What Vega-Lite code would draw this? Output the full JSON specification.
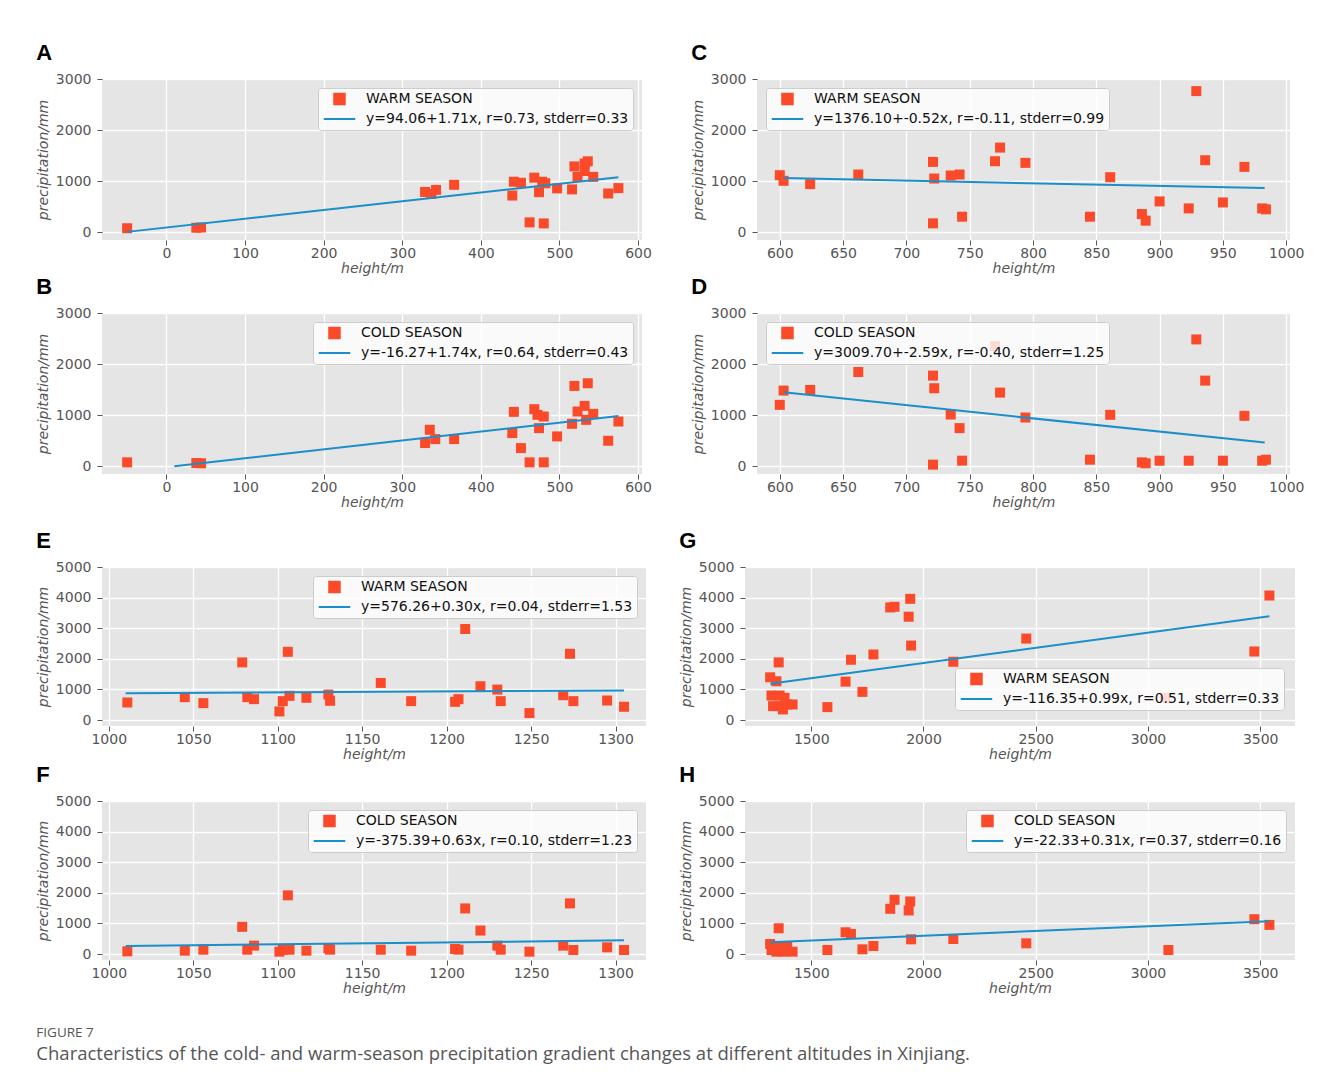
{
"$schema": "https://vega.github.io/schema/vega-lite/v6.json",
"padding": {"left": 36, "top": 42, "right": 5, "bottom": 5},
"background": "white",
"config": {
 "font": "DejaVu Sans",
 "view": {"fill": "#e5e5e5", "stroke": null},
 "axis": {"labelFont": "DejaVu Sans", "labelFontSize": 14, "labelColor": "#555555", "titleFont": "DejaVu Sans", "titleFontSize": 14, "titleFontStyle": "italic", "titleFontWeight": "normal", "titleColor": "#555555", "domain": false, "tickColor": "#555555", "tickSize": 5, "gridColor": "#ffffff", "gridWidth": 1.3, "gridOpacity": 1, "labelFlush": false, "labelOverlap": false, "format": "d"},
 "axisX": {"labelPadding": 1, "titlePadding": 1},
 "axisY": {"labelPadding": 6, "titlePadding": 5},
 "legend": {"fillColor": "rgba(255,255,255,0.8)", "strokeColor": "#cccccc", "cornerRadius": 3, "padding": 4, "labelFontSize": 14, "labelColor": "#111111", "labelFont": "DejaVu Sans", "labelLimit": 600, "symbolSize": 110, "rowPadding": 3, "labelOffset": 30, "offset": 9, "symbolStrokeWidth": 2},
 "title": {"anchor": "start", "font": "Liberation Sans", "fontSize": 22, "fontWeight": "bold", "color": "#000000", "offset": 7}
},
"title": {"text": "FIGURE 7", "subtitle": "Characteristics of the cold- and warm-season precipitation gradient changes at different altitudes in Xinjiang.", "orient": "bottom", "anchor": "start", "frame": "bounds", "font": "Open Sans", "fontSize": 13.5, "fontWeight": "normal", "color": "#555555", "subtitleFont": "Open Sans", "subtitleFontSize": 18.5, "subtitleColor": "#555555", "subtitlePadding": 5, "offset": 31},
"datasets": {
 "A_pts": [
  {"h": -50, "p": 80, "s": "WARM SEASON"}, {"h": 38, "p": 90, "s": "WARM SEASON"}, {"h": 44, "p": 95, "s": "WARM SEASON"},
  {"h": 329, "p": 790, "s": "WARM SEASON"}, {"h": 337, "p": 750, "s": "WARM SEASON"}, {"h": 343, "p": 830, "s": "WARM SEASON"},
  {"h": 366, "p": 930, "s": "WARM SEASON"}, {"h": 440, "p": 720, "s": "WARM SEASON"}, {"h": 442, "p": 990, "s": "WARM SEASON"},
  {"h": 451, "p": 970, "s": "WARM SEASON"}, {"h": 462, "p": 195, "s": "WARM SEASON"}, {"h": 468, "p": 1070, "s": "WARM SEASON"},
  {"h": 474, "p": 786, "s": "WARM SEASON"}, {"h": 478, "p": 990, "s": "WARM SEASON"}, {"h": 482, "p": 960, "s": "WARM SEASON"},
  {"h": 480, "p": 175, "s": "WARM SEASON"}, {"h": 497, "p": 860, "s": "WARM SEASON"}, {"h": 516, "p": 840, "s": "WARM SEASON"},
  {"h": 519, "p": 1290, "s": "WARM SEASON"}, {"h": 523, "p": 1085, "s": "WARM SEASON"}, {"h": 532, "p": 1200, "s": "WARM SEASON"},
  {"h": 532, "p": 1345, "s": "WARM SEASON"}, {"h": 536, "p": 1390, "s": "WARM SEASON"}, {"h": 543, "p": 1085, "s": "WARM SEASON"},
  {"h": 562, "p": 760, "s": "WARM SEASON"}, {"h": 575, "p": 865, "s": "WARM SEASON"}
 ],
 "A_fit": [{"h": -50, "p": 9, "s": "y=94.06+1.71x, r=0.73, stderr=0.33"}, {"h": 575, "p": 1077, "s": "y=94.06+1.71x, r=0.73, stderr=0.33"}],
 "B_pts": [
  {"h": -50, "p": 78, "s": "COLD SEASON"}, {"h": 38, "p": 65, "s": "COLD SEASON"}, {"h": 44, "p": 60, "s": "COLD SEASON"},
  {"h": 329, "p": 455, "s": "COLD SEASON"}, {"h": 335, "p": 715, "s": "COLD SEASON"}, {"h": 342, "p": 533, "s": "COLD SEASON"},
  {"h": 366, "p": 533, "s": "COLD SEASON"}, {"h": 440, "p": 650, "s": "COLD SEASON"}, {"h": 442, "p": 1066, "s": "COLD SEASON"},
  {"h": 451, "p": 357, "s": "COLD SEASON"}, {"h": 462, "p": 78, "s": "COLD SEASON"}, {"h": 468, "p": 1118, "s": "COLD SEASON"},
  {"h": 472, "p": 1008, "s": "COLD SEASON"}, {"h": 474, "p": 748, "s": "COLD SEASON"}, {"h": 480, "p": 975, "s": "COLD SEASON"},
  {"h": 480, "p": 78, "s": "COLD SEASON"}, {"h": 497, "p": 585, "s": "COLD SEASON"}, {"h": 516, "p": 832, "s": "COLD SEASON"},
  {"h": 519, "p": 1573, "s": "COLD SEASON"}, {"h": 523, "p": 1073, "s": "COLD SEASON"}, {"h": 532, "p": 1183, "s": "COLD SEASON"},
  {"h": 536, "p": 1625, "s": "COLD SEASON"}, {"h": 534, "p": 910, "s": "COLD SEASON"}, {"h": 543, "p": 1027, "s": "COLD SEASON"},
  {"h": 562, "p": 500, "s": "COLD SEASON"}, {"h": 575, "p": 877, "s": "COLD SEASON"}
 ],
 "B_fit": [{"h": 10, "p": 1, "s": "y=-16.27+1.74x, r=0.64, stderr=0.43"}, {"h": 575, "p": 984, "s": "y=-16.27+1.74x, r=0.64, stderr=0.43"}],
 "C_pts": [
  {"h": 600, "p": 1118, "s": "WARM SEASON"}, {"h": 603, "p": 1008, "s": "WARM SEASON"}, {"h": 624, "p": 943, "s": "WARM SEASON"},
  {"h": 662, "p": 1131, "s": "WARM SEASON"}, {"h": 721, "p": 176, "s": "WARM SEASON"}, {"h": 721, "p": 1378, "s": "WARM SEASON"},
  {"h": 722, "p": 1053, "s": "WARM SEASON"}, {"h": 735, "p": 1112, "s": "WARM SEASON"}, {"h": 742, "p": 1131, "s": "WARM SEASON"},
  {"h": 744, "p": 306, "s": "WARM SEASON"}, {"h": 770, "p": 1391, "s": "WARM SEASON"}, {"h": 774, "p": 1658, "s": "WARM SEASON"},
  {"h": 794, "p": 1359, "s": "WARM SEASON"}, {"h": 845, "p": 306, "s": "WARM SEASON"}, {"h": 861, "p": 1079, "s": "WARM SEASON"},
  {"h": 886, "p": 358, "s": "WARM SEASON"}, {"h": 889, "p": 228, "s": "WARM SEASON"}, {"h": 900, "p": 605, "s": "WARM SEASON"},
  {"h": 923, "p": 468, "s": "WARM SEASON"}, {"h": 929, "p": 2763, "s": "WARM SEASON"}, {"h": 936, "p": 1411, "s": "WARM SEASON"},
  {"h": 950, "p": 585, "s": "WARM SEASON"}, {"h": 967, "p": 1281, "s": "WARM SEASON"}, {"h": 981, "p": 468, "s": "WARM SEASON"},
  {"h": 984, "p": 450, "s": "WARM SEASON"}
 ],
 "C_fit": [{"h": 603, "p": 1062, "s": "y=1376.10+-0.52x, r=-0.11, stderr=0.99"}, {"h": 983, "p": 865, "s": "y=1376.10+-0.52x, r=-0.11, stderr=0.99"}],
 "D_pts": [
  {"h": 600, "p": 1203, "s": "COLD SEASON"}, {"h": 603, "p": 1482, "s": "COLD SEASON"}, {"h": 624, "p": 1495, "s": "COLD SEASON"},
  {"h": 662, "p": 1846, "s": "COLD SEASON"}, {"h": 721, "p": 33, "s": "COLD SEASON"}, {"h": 721, "p": 1775, "s": "COLD SEASON"},
  {"h": 722, "p": 1528, "s": "COLD SEASON"}, {"h": 735, "p": 1014, "s": "COLD SEASON"}, {"h": 742, "p": 748, "s": "COLD SEASON"},
  {"h": 744, "p": 111, "s": "COLD SEASON"}, {"h": 770, "p": 2353, "s": "COLD SEASON"}, {"h": 774, "p": 1443, "s": "COLD SEASON"},
  {"h": 794, "p": 955, "s": "COLD SEASON"}, {"h": 845, "p": 130, "s": "COLD SEASON"}, {"h": 861, "p": 1008, "s": "COLD SEASON"},
  {"h": 886, "p": 78, "s": "COLD SEASON"}, {"h": 889, "p": 60, "s": "COLD SEASON"}, {"h": 900, "p": 110, "s": "COLD SEASON"},
  {"h": 923, "p": 110, "s": "COLD SEASON"}, {"h": 929, "p": 2483, "s": "COLD SEASON"}, {"h": 936, "p": 1677, "s": "COLD SEASON"},
  {"h": 950, "p": 110, "s": "COLD SEASON"}, {"h": 967, "p": 988, "s": "COLD SEASON"}, {"h": 981, "p": 110, "s": "COLD SEASON"},
  {"h": 984, "p": 130, "s": "COLD SEASON"}
 ],
 "D_fit": [{"h": 603, "p": 1448, "s": "y=3009.70+-2.59x, r=-0.40, stderr=1.25"}, {"h": 983, "p": 464, "s": "y=3009.70+-2.59x, r=-0.40, stderr=1.25"}],
 "E_pts": [
  {"h": 1011, "p": 573, "s": "WARM SEASON"}, {"h": 1045, "p": 747, "s": "WARM SEASON"}, {"h": 1056, "p": 552, "s": "WARM SEASON"},
  {"h": 1079, "p": 1883, "s": "WARM SEASON"}, {"h": 1082, "p": 747, "s": "WARM SEASON"}, {"h": 1086, "p": 682, "s": "WARM SEASON"},
  {"h": 1101, "p": 281, "s": "WARM SEASON"}, {"h": 1103, "p": 617, "s": "WARM SEASON"}, {"h": 1106, "p": 2229, "s": "WARM SEASON"},
  {"h": 1107, "p": 790, "s": "WARM SEASON"}, {"h": 1117, "p": 725, "s": "WARM SEASON"}, {"h": 1130, "p": 833, "s": "WARM SEASON"},
  {"h": 1131, "p": 628, "s": "WARM SEASON"}, {"h": 1161, "p": 1212, "s": "WARM SEASON"}, {"h": 1179, "p": 617, "s": "WARM SEASON"},
  {"h": 1205, "p": 595, "s": "WARM SEASON"}, {"h": 1207, "p": 682, "s": "WARM SEASON"}, {"h": 1211, "p": 2975, "s": "WARM SEASON"},
  {"h": 1220, "p": 1104, "s": "WARM SEASON"}, {"h": 1230, "p": 995, "s": "WARM SEASON"}, {"h": 1232, "p": 617, "s": "WARM SEASON"},
  {"h": 1249, "p": 227, "s": "WARM SEASON"}, {"h": 1269, "p": 811, "s": "WARM SEASON"}, {"h": 1273, "p": 2164, "s": "WARM SEASON"},
  {"h": 1275, "p": 617, "s": "WARM SEASON"}, {"h": 1295, "p": 638, "s": "WARM SEASON"}, {"h": 1305, "p": 433, "s": "WARM SEASON"}
 ],
 "E_fit": [{"h": 1010, "p": 879, "s": "y=576.26+0.30x, r=0.04, stderr=1.53"}, {"h": 1305, "p": 968, "s": "y=576.26+0.30x, r=0.04, stderr=1.53"}],
 "F_pts": [
  {"h": 1011, "p": 88, "s": "COLD SEASON"}, {"h": 1045, "p": 110, "s": "COLD SEASON"}, {"h": 1056, "p": 142, "s": "COLD SEASON"},
  {"h": 1079, "p": 888, "s": "COLD SEASON"}, {"h": 1082, "p": 142, "s": "COLD SEASON"}, {"h": 1086, "p": 274, "s": "COLD SEASON"},
  {"h": 1101, "p": 77, "s": "COLD SEASON"}, {"h": 1103, "p": 142, "s": "COLD SEASON"}, {"h": 1106, "p": 1918, "s": "COLD SEASON"},
  {"h": 1107, "p": 142, "s": "COLD SEASON"}, {"h": 1117, "p": 110, "s": "COLD SEASON"}, {"h": 1130, "p": 186, "s": "COLD SEASON"},
  {"h": 1131, "p": 142, "s": "COLD SEASON"}, {"h": 1161, "p": 142, "s": "COLD SEASON"}, {"h": 1179, "p": 110, "s": "COLD SEASON"},
  {"h": 1205, "p": 164, "s": "COLD SEASON"}, {"h": 1207, "p": 142, "s": "COLD SEASON"}, {"h": 1211, "p": 1490, "s": "COLD SEASON"},
  {"h": 1220, "p": 767, "s": "COLD SEASON"}, {"h": 1230, "p": 274, "s": "COLD SEASON"}, {"h": 1232, "p": 142, "s": "COLD SEASON"},
  {"h": 1249, "p": 77, "s": "COLD SEASON"}, {"h": 1269, "p": 274, "s": "COLD SEASON"}, {"h": 1273, "p": 1655, "s": "COLD SEASON"},
  {"h": 1275, "p": 131, "s": "COLD SEASON"}, {"h": 1295, "p": 219, "s": "COLD SEASON"}, {"h": 1305, "p": 131, "s": "COLD SEASON"}
 ],
 "F_fit": [{"h": 1010, "p": 261, "s": "y=-375.39+0.63x, r=0.10, stderr=1.23"}, {"h": 1305, "p": 447, "s": "y=-375.39+0.63x, r=0.10, stderr=1.23"}],
 "G_pts": [
  {"h": 1317, "p": 1396, "s": "WARM SEASON"}, {"h": 1323, "p": 800, "s": "WARM SEASON"}, {"h": 1330, "p": 454, "s": "WARM SEASON"},
  {"h": 1345, "p": 1266, "s": "WARM SEASON"}, {"h": 1355, "p": 1883, "s": "WARM SEASON"}, {"h": 1359, "p": 800, "s": "WARM SEASON"},
  {"h": 1368, "p": 454, "s": "WARM SEASON"}, {"h": 1374, "p": 346, "s": "WARM SEASON"}, {"h": 1381, "p": 725, "s": "WARM SEASON"},
  {"h": 1393, "p": 508, "s": "WARM SEASON"}, {"h": 1417, "p": 508, "s": "WARM SEASON"}, {"h": 1572, "p": 422, "s": "WARM SEASON"},
  {"h": 1653, "p": 1255, "s": "WARM SEASON"}, {"h": 1677, "p": 1969, "s": "WARM SEASON"}, {"h": 1728, "p": 920, "s": "WARM SEASON"},
  {"h": 1777, "p": 2142, "s": "WARM SEASON"}, {"h": 1852, "p": 3679, "s": "WARM SEASON"}, {"h": 1871, "p": 3700, "s": "WARM SEASON"},
  {"h": 1934, "p": 3376, "s": "WARM SEASON"}, {"h": 1941, "p": 3960, "s": "WARM SEASON"}, {"h": 1945, "p": 2434, "s": "WARM SEASON"},
  {"h": 2133, "p": 1904, "s": "WARM SEASON"}, {"h": 2458, "p": 2662, "s": "WARM SEASON"}, {"h": 3076, "p": 725, "s": "WARM SEASON"},
  {"h": 3474, "p": 2240, "s": "WARM SEASON"}, {"h": 3541, "p": 4068, "s": "WARM SEASON"}
 ],
 "G_fit": [{"h": 1317, "p": 1188, "s": "y=-116.35+0.99x, r=0.51, stderr=0.33"}, {"h": 3541, "p": 3389, "s": "y=-116.35+0.99x, r=0.51, stderr=0.33"}],
 "H_pts": [
  {"h": 1317, "p": 328, "s": "COLD SEASON"}, {"h": 1323, "p": 131, "s": "COLD SEASON"}, {"h": 1330, "p": 241, "s": "COLD SEASON"},
  {"h": 1345, "p": 77, "s": "COLD SEASON"}, {"h": 1355, "p": 842, "s": "COLD SEASON"}, {"h": 1359, "p": 131, "s": "COLD SEASON"},
  {"h": 1368, "p": 241, "s": "COLD SEASON"}, {"h": 1379, "p": 77, "s": "COLD SEASON"}, {"h": 1393, "p": 241, "s": "COLD SEASON"},
  {"h": 1417, "p": 77, "s": "COLD SEASON"}, {"h": 1572, "p": 131, "s": "COLD SEASON"}, {"h": 1653, "p": 711, "s": "COLD SEASON"},
  {"h": 1677, "p": 656, "s": "COLD SEASON"}, {"h": 1728, "p": 153, "s": "COLD SEASON"}, {"h": 1777, "p": 263, "s": "COLD SEASON"},
  {"h": 1852, "p": 1477, "s": "COLD SEASON"}, {"h": 1871, "p": 1772, "s": "COLD SEASON"}, {"h": 1934, "p": 1422, "s": "COLD SEASON"},
  {"h": 1941, "p": 1718, "s": "COLD SEASON"}, {"h": 1945, "p": 481, "s": "COLD SEASON"}, {"h": 2133, "p": 492, "s": "COLD SEASON"},
  {"h": 2458, "p": 350, "s": "COLD SEASON"}, {"h": 3091, "p": 131, "s": "COLD SEASON"}, {"h": 3474, "p": 1138, "s": "COLD SEASON"},
  {"h": 3541, "p": 952, "s": "COLD SEASON"}
 ],
 "H_fit": [{"h": 1317, "p": 386, "s": "y=-22.33+0.31x, r=0.37, stderr=0.16"}, {"h": 3541, "p": 1075, "s": "y=-22.33+0.31x, r=0.37, stderr=0.16"}]
},
"spacing": 21,
"resolve": {"scale": {"color": "independent"}, "legend": {"color": "independent"}},
"vconcat": [
 {"spacing": 1,
  "resolve": {"scale": {"color": "independent"}, "legend": {"color": "independent"}},
  "vconcat": [
  {"spacing": 39,
   "resolve": {"scale": {"color": "independent"}, "legend": {"color": "independent"}},
   "hconcat": [
   {"width": 540, "height": 161, "title": {"text": "A"},
    "encoding": {
     "x": {"field": "h", "type": "quantitative", "scale": {"domain": [-82, 605], "nice": false, "zero": false}, "axis": {"values": [0, 100, 200, 300, 400, 500, 600], "title": "height/m", "labelOverlap": false}},
     "y": {"field": "p", "type": "quantitative", "scale": {"domain": [-150, 3000], "nice": false, "zero": false}, "axis": {"values": [0, 1000, 2000, 3000], "title": "precipitation/mm", "labelOverlap": false}},
     "color": {"field": "s", "type": "nominal", "scale": {"domain": ["WARM SEASON", "y=94.06+1.71x, r=0.73, stderr=0.33"], "range": ["#fa4a2a", "#1b8fc9"]},
      "legend": {"title": null, "orient": "top-right", "encode": {"symbols": {"update": {"shape": {"signal": "datum.index === 0 ? 'M1,-1H3V1H1Z' : 'M-1,0H5'"}, "stroke": {"signal": "datum.index === 0 ? 'transparent' : '#1b8fc9'"}, "strokeWidth": {"value": 2}}}}}}
    },
    "layer": [
     {"data": {"name": "A_pts"}, "mark": {"type": "square", "size": 100, "opacity": 1}},
     {"data": {"name": "A_fit"}, "mark": {"type": "line", "strokeWidth": 2}}
    ]},
   {"width": 533, "height": 161, "title": {"text": "C"},
    "encoding": {
     "x": {"field": "h", "type": "quantitative", "scale": {"domain": [582, 1003], "nice": false, "zero": false}, "axis": {"values": [600, 650, 700, 750, 800, 850, 900, 950, 1000], "title": "height/m", "labelOverlap": false}},
     "y": {"field": "p", "type": "quantitative", "scale": {"domain": [-150, 3000], "nice": false, "zero": false}, "axis": {"values": [0, 1000, 2000, 3000], "title": "precipitation/mm", "labelOverlap": false}},
     "color": {"field": "s", "type": "nominal", "scale": {"domain": ["WARM SEASON", "y=1376.10+-0.52x, r=-0.11, stderr=0.99"], "range": ["#fa4a2a", "#1b8fc9"]},
      "legend": {"title": null, "orient": "top-left", "encode": {"symbols": {"update": {"shape": {"signal": "datum.index === 0 ? 'M1,-1H3V1H1Z' : 'M-1,0H5'"}, "stroke": {"signal": "datum.index === 0 ? 'transparent' : '#1b8fc9'"}, "strokeWidth": {"value": 2}}}}}}
    },
    "layer": [
     {"data": {"name": "C_pts"}, "mark": {"type": "square", "size": 100, "opacity": 1}},
     {"data": {"name": "C_fit"}, "mark": {"type": "line", "strokeWidth": 2}}
    ]}
  ]},
  {"spacing": 39,
   "resolve": {"scale": {"color": "independent"}, "legend": {"color": "independent"}},
   "hconcat": [
   {"width": 540, "height": 161, "title": {"text": "B"},
    "encoding": {
     "x": {"field": "h", "type": "quantitative", "scale": {"domain": [-82, 605], "nice": false, "zero": false}, "axis": {"values": [0, 100, 200, 300, 400, 500, 600], "title": "height/m", "labelOverlap": false}},
     "y": {"field": "p", "type": "quantitative", "scale": {"domain": [-150, 3000], "nice": false, "zero": false}, "axis": {"values": [0, 1000, 2000, 3000], "title": "precipitation/mm", "labelOverlap": false}},
     "color": {"field": "s", "type": "nominal", "scale": {"domain": ["COLD SEASON", "y=-16.27+1.74x, r=0.64, stderr=0.43"], "range": ["#fa4a2a", "#1b8fc9"]},
      "legend": {"title": null, "orient": "top-right", "encode": {"symbols": {"update": {"shape": {"signal": "datum.index === 0 ? 'M1,-1H3V1H1Z' : 'M-1,0H5'"}, "stroke": {"signal": "datum.index === 0 ? 'transparent' : '#1b8fc9'"}, "strokeWidth": {"value": 2}}}}}}
    },
    "layer": [
     {"data": {"name": "B_pts"}, "mark": {"type": "square", "size": 100, "opacity": 1}},
     {"data": {"name": "B_fit"}, "mark": {"type": "line", "strokeWidth": 2}}
    ]},
   {"width": 533, "height": 161, "title": {"text": "D"},
    "encoding": {
     "x": {"field": "h", "type": "quantitative", "scale": {"domain": [582, 1003], "nice": false, "zero": false}, "axis": {"values": [600, 650, 700, 750, 800, 850, 900, 950, 1000], "title": "height/m", "labelOverlap": false}},
     "y": {"field": "p", "type": "quantitative", "scale": {"domain": [-150, 3000], "nice": false, "zero": false}, "axis": {"values": [0, 1000, 2000, 3000], "title": "precipitation/mm", "labelOverlap": false}},
     "color": {"field": "s", "type": "nominal", "scale": {"domain": ["COLD SEASON", "y=3009.70+-2.59x, r=-0.40, stderr=1.25"], "range": ["#fa4a2a", "#1b8fc9"]},
      "legend": {"title": null, "orient": "top-left", "encode": {"symbols": {"update": {"shape": {"signal": "datum.index === 0 ? 'M1,-1H3V1H1Z' : 'M-1,0H5'"}, "stroke": {"signal": "datum.index === 0 ? 'transparent' : '#1b8fc9'"}, "strokeWidth": {"value": 2}}}}}}
    },
    "layer": [
     {"data": {"name": "D_pts"}, "mark": {"type": "square", "size": 100, "opacity": 1}},
     {"data": {"name": "D_fit"}, "mark": {"type": "line", "strokeWidth": 2}}
    ]}
  ]}
 ]},
 {"spacing": 3,
  "resolve": {"scale": {"color": "independent"}, "legend": {"color": "independent"}},
  "vconcat": [
  {"spacing": 33,
   "resolve": {"scale": {"color": "independent"}, "legend": {"color": "independent"}},
   "hconcat": [
   {"width": 544, "height": 159, "title": {"text": "E"},
    "encoding": {
     "x": {"field": "h", "type": "quantitative", "scale": {"domain": [996, 1318], "nice": false, "zero": false}, "axis": {"values": [1000, 1050, 1100, 1150, 1200, 1250, 1300], "title": "height/m", "labelOverlap": false}},
     "y": {"field": "p", "type": "quantitative", "scale": {"domain": [-195, 5000], "nice": false, "zero": false}, "axis": {"values": [0, 1000, 2000, 3000, 4000, 5000], "title": "precipitation/mm", "labelOverlap": false}},
     "color": {"field": "s", "type": "nominal", "scale": {"domain": ["WARM SEASON", "y=576.26+0.30x, r=0.04, stderr=1.53"], "range": ["#fa4a2a", "#1b8fc9"]},
      "legend": {"title": null, "orient": "top-right", "encode": {"symbols": {"update": {"shape": {"signal": "datum.index === 0 ? 'M1,-1H3V1H1Z' : 'M-1,0H5'"}, "stroke": {"signal": "datum.index === 0 ? 'transparent' : '#1b8fc9'"}, "strokeWidth": {"value": 2}}}}}}
    },
    "layer": [
     {"data": {"name": "E_pts"}, "mark": {"type": "square", "size": 100, "opacity": 1}},
     {"data": {"name": "E_fit"}, "mark": {"type": "line", "strokeWidth": 2}}
    ]},
   {"width": 550, "height": 159, "title": {"text": "G"},
    "encoding": {
     "x": {"field": "h", "type": "quantitative", "scale": {"domain": [1205, 3655], "nice": false, "zero": false}, "axis": {"values": [1500, 2000, 2500, 3000, 3500], "title": "height/m", "labelOverlap": false}},
     "y": {"field": "p", "type": "quantitative", "scale": {"domain": [-195, 5000], "nice": false, "zero": false}, "axis": {"values": [0, 1000, 2000, 3000, 4000, 5000], "title": "precipitation/mm", "labelOverlap": false}},
     "color": {"field": "s", "type": "nominal", "scale": {"domain": ["WARM SEASON", "y=-116.35+0.99x, r=0.51, stderr=0.33"], "range": ["#fa4a2a", "#1b8fc9"]},
      "legend": {"title": null, "orient": "none", "legendX": 210, "legendY": 101, "encode": {"symbols": {"update": {"shape": {"signal": "datum.index === 0 ? 'M1,-1H3V1H1Z' : 'M-1,0H5'"}, "stroke": {"signal": "datum.index === 0 ? 'transparent' : '#1b8fc9'"}, "strokeWidth": {"value": 2}}}}}}
    },
    "layer": [
     {"data": {"name": "G_pts"}, "mark": {"type": "square", "size": 100, "opacity": 1}},
     {"data": {"name": "G_fit"}, "mark": {"type": "line", "strokeWidth": 2}}
    ]}
  ]},
  {"spacing": 33,
   "resolve": {"scale": {"color": "independent"}, "legend": {"color": "independent"}},
   "hconcat": [
   {"width": 544, "height": 159, "title": {"text": "F"},
    "encoding": {
     "x": {"field": "h", "type": "quantitative", "scale": {"domain": [996, 1318], "nice": false, "zero": false}, "axis": {"values": [1000, 1050, 1100, 1150, 1200, 1250, 1300], "title": "height/m", "labelOverlap": false}},
     "y": {"field": "p", "type": "quantitative", "scale": {"domain": [-195, 5000], "nice": false, "zero": false}, "axis": {"values": [0, 1000, 2000, 3000, 4000, 5000], "title": "precipitation/mm", "labelOverlap": false}},
     "color": {"field": "s", "type": "nominal", "scale": {"domain": ["COLD SEASON", "y=-375.39+0.63x, r=0.10, stderr=1.23"], "range": ["#fa4a2a", "#1b8fc9"]},
      "legend": {"title": null, "orient": "top-right", "encode": {"symbols": {"update": {"shape": {"signal": "datum.index === 0 ? 'M1,-1H3V1H1Z' : 'M-1,0H5'"}, "stroke": {"signal": "datum.index === 0 ? 'transparent' : '#1b8fc9'"}, "strokeWidth": {"value": 2}}}}}}
    },
    "layer": [
     {"data": {"name": "F_pts"}, "mark": {"type": "square", "size": 100, "opacity": 1}},
     {"data": {"name": "F_fit"}, "mark": {"type": "line", "strokeWidth": 2}}
    ]},
   {"width": 550, "height": 159, "title": {"text": "H"},
    "encoding": {
     "x": {"field": "h", "type": "quantitative", "scale": {"domain": [1205, 3655], "nice": false, "zero": false}, "axis": {"values": [1500, 2000, 2500, 3000, 3500], "title": "height/m", "labelOverlap": false}},
     "y": {"field": "p", "type": "quantitative", "scale": {"domain": [-195, 5000], "nice": false, "zero": false}, "axis": {"values": [0, 1000, 2000, 3000, 4000, 5000], "title": "precipitation/mm", "labelOverlap": false}},
     "color": {"field": "s", "type": "nominal", "scale": {"domain": ["COLD SEASON", "y=-22.33+0.31x, r=0.37, stderr=0.16"], "range": ["#fa4a2a", "#1b8fc9"]},
      "legend": {"title": null, "orient": "top-right", "encode": {"symbols": {"update": {"shape": {"signal": "datum.index === 0 ? 'M1,-1H3V1H1Z' : 'M-1,0H5'"}, "stroke": {"signal": "datum.index === 0 ? 'transparent' : '#1b8fc9'"}, "strokeWidth": {"value": 2}}}}}}
    },
    "layer": [
     {"data": {"name": "H_pts"}, "mark": {"type": "square", "size": 100, "opacity": 1}},
     {"data": {"name": "H_fit"}, "mark": {"type": "line", "strokeWidth": 2}}
    ]}
  ]}
 ]}
]
}
